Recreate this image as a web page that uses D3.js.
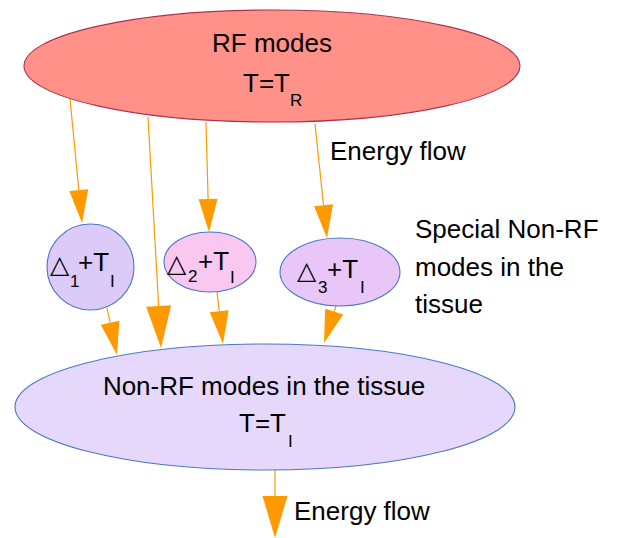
<!DOCTYPE html>
<html><head><meta charset="utf-8">
<script src="https://cdn.jsdelivr.net/npm/d3@7"></script>
<style>
html,body{margin:0;padding:0;background:#fff;}
svg{display:block;}
text{font-family:"Liberation Sans",Arial,sans-serif;fill:#000;}
</style></head>
<body>
<svg id="c" width="622" height="538"></svg>
<script>
// ---- content (labels) ----
const nodeNames = ["rf", "s1", "s2", "s3", "tissue"];
const nodeTitles = ["RF modes", "", "", "", "Non-RF modes in the tissue"];
const nodeMain = ["T=T", "+T", "+T", "+T", "T=T"];
const nodeSub = ["R", "I", "I", "I", "I"];
const deltaSub = ["", "1", "2", "3", ""];
const flowLabel = "Energy flow";
const sideNote = ["Special Non-RF", "modes in the", "tissue"];
const arrowFrom = ["rf", "rf", "rf", "rf", "s1", "s2", "s3", "tissue"];
const arrowTo   = ["s1", "tissue", "s2", "s3", "tissue", "tissue", "tissue", "out"];

// ---- layout (geometry & style, kept separate from content) ----
const ellipseGeom = {
  rf:     {cx:272, cy:66,  rx:248, ry:56, fill:"#ff9189", stroke:"#b0304f"},
  s1:     {cx:90.5,cy:267, rx:43.5,ry:43, fill:"#dccbf8", stroke:"#4a78c4"},
  s2:     {cx:210, cy:262, rx:46,  ry:30, fill:"#f8c8f0", stroke:"#4a78c4"},
  s3:     {cx:340, cy:272, rx:60,  ry:34, fill:"#e8c6f8", stroke:"#4a78c4"},
  tissue: {cx:265, cy:407, rx:250, ry:63, fill:"#e6d8fa", stroke:"#4a78c4"}
};
const arrowGeom = [
  {x1:70, y1:99,  x2:82,  y2:223, big:false},
  {x1:148,y1:117, x2:161, y2:348, big:true},
  {x1:206,y1:122, x2:209, y2:232, big:false},
  {x1:315,y1:124, x2:327, y2:238, big:false},
  {x1:107,y1:308, x2:117, y2:355, big:false},
  {x1:217,y1:292, x2:223, y2:344, big:false},
  {x1:336,y1:306, x2:324, y2:343, big:false},
  {x1:275,y1:470, x2:275, y2:538, big:true}
];
const textGeom = {
  rf:     {title:{x:272,y:52}, main:{x:243,y:92}, sub:{x:290,y:106}},
  s1:     {tri:{x:50,y:273},  dsub:{x:70,y:287},  main:{x:78,y:271},  sub:{x:110,y:287}},
  s2:     {tri:{x:167,y:272}, dsub:{x:188,y:282}, main:{x:198,y:270}, sub:{x:230,y:283}},
  s3:     {tri:{x:297,y:279}, dsub:{x:318,y:293}, main:{x:327,y:278}, sub:{x:360,y:293}},
  tissue: {title:{x:264,y:395}, main:{x:239,y:432}, sub:{x:288,y:447}}
};
const flowPos = [{x:330,y:160},{x:294,y:520}];
const notePos = {x:415, y:238, dy:37.5};
const BIG = 26, SMALL = 17, TRI = 25, ORANGE = "#ff9900";

const svg = d3.select("#c");

// arrows
const arrows = arrowGeom.map((g,i)=>Object.assign({from:arrowFrom[i], to:arrowTo[i]}, g));
const ag = svg.append("g").selectAll("g").data(arrows).join("g");
ag.each(function(d){
  const g = d3.select(this);
  const L = d.big ? 42 : 33, W = d.big ? 25 : 19;
  const dx = d.x2-d.x1, dy = d.y2-d.y1, len = Math.hypot(dx,dy);
  const ux = dx/len, uy = dy/len;
  const bx = d.x2-ux*L, by = d.y2-uy*L;
  g.append("line").attr("x1",d.x1).attr("y1",d.y1).attr("x2",bx).attr("y2",by)
    .attr("stroke",ORANGE).attr("stroke-width",1.2);
  const pts = [[d.x2,d.y2],[bx-uy*W/2, by+ux*W/2],[bx+uy*W/2, by-ux*W/2]];
  g.append("path").attr("d", d3.line()(pts)+"Z").attr("fill",ORANGE);
});

// ellipses
const nodes = nodeNames.map((n,i)=>({name:n, title:nodeTitles[i], main:nodeMain[i], sub:nodeSub[i], dsub:deltaSub[i]}));
svg.append("g").selectAll("ellipse").data(nodes).join("ellipse")
  .attr("cx",d=>ellipseGeom[d.name].cx).attr("cy",d=>ellipseGeom[d.name].cy)
  .attr("rx",d=>ellipseGeom[d.name].rx).attr("ry",d=>ellipseGeom[d.name].ry)
  .attr("fill",d=>ellipseGeom[d.name].fill).attr("stroke",d=>ellipseGeom[d.name].stroke)
  .attr("stroke-width",1.1);

ag.raise();
svg.selectAll("ellipse").filter(d=>d.name==="rf").raise();

// labels
const tg = svg.append("g");
nodes.forEach(d=>{
  const t = textGeom[d.name];
  if (t.title) tg.append("text").attr("x",t.title.x).attr("y",t.title.y)
      .attr("text-anchor","middle").attr("font-size",BIG).text(d.title);
  if (t.tri) {
    tg.append("text").attr("x",t.tri.x).attr("y",t.tri.y)
      .attr("font-size",TRI).style("font-family","'DejaVu Sans'").text("\u25B3");
    tg.append("text").attr("x",t.dsub.x).attr("y",t.dsub.y).attr("font-size",SMALL).text(d.dsub);
  }
  tg.append("text").attr("x",t.main.x).attr("y",t.main.y).attr("font-size",BIG).text(d.main);
  tg.append("text").attr("x",t.sub.x).attr("y",t.sub.y).attr("font-size",SMALL).text(d.sub);
});
tg.selectAll(".flow").data(flowPos).join("text").attr("class","flow")
  .attr("x",d=>d.x).attr("y",d=>d.y).attr("font-size",BIG).text(flowLabel);
tg.selectAll(".note").data(sideNote).join("text").attr("class","note")
  .attr("x",notePos.x).attr("y",(d,i)=>notePos.y+i*notePos.dy).attr("font-size",BIG).text(d=>d);
</script>
</body></html>
